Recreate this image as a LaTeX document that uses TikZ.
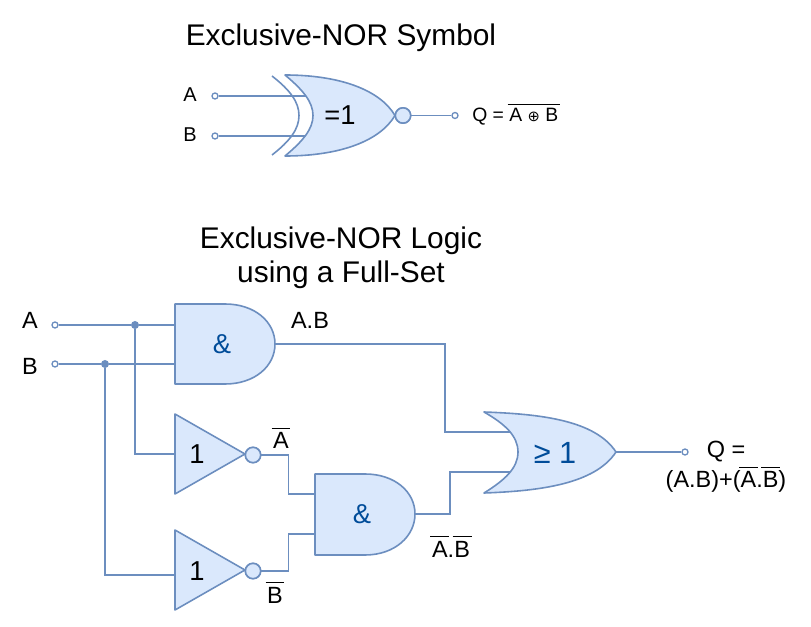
\documentclass[tikz,border=0pt]{standalone}
\usepackage{fontspec}
\setmainfont{Liberation Sans}
\newfontfamily\symfont{DejaVu Sans}
\newcommand{\ovl}[1]{\leavevmode\kern-1.2pt\vbox{\hrule height 0.7pt \kern 3pt \hbox{\kern1.2pt #1\kern1.2pt}}\kern-1.2pt}
\definecolor{gatefill}{HTML}{DAE8FC}
\definecolor{gateline}{HTML}{6C8EBF}
\definecolor{gatetext}{HTML}{004C99}
\tikzset{
  wire/.style={draw=gateline,line width=1.2pt},
  gate/.style={draw=gateline,fill=gatefill,line width=1.2pt,line join=round},
  arcline/.style={draw=gateline,line width=1.2pt},
  term/.style={circle,draw=gateline,fill=white,line width=1pt,inner sep=0pt,minimum size=4.5pt},
  junction/.style={circle,fill=gateline,inner sep=0pt,minimum size=6pt},
  bubble/.style={circle,draw=gateline,fill=gatefill,line width=1.2pt,inner sep=0pt,minimum size=11.5pt},
  title/.style={font=\fontsize{22.4}{25.5}\selectfont,align=center,inner sep=0pt},
  lblt/.style={font=\fontsize{15}{18}\selectfont,inner sep=0pt,anchor=base},
  lbl/.style={font=\fontsize{17.6}{22.5}\selectfont,inner sep=0pt,anchor=base},
  small/.style={font=\fontsize{14.5}{17}\selectfont,inner sep=0pt,anchor=base west},
  gatelbl/.style={font=\fontsize{20.5}{25}\selectfont,inner sep=0pt},
  bluelbl/.style={gatelbl,text=gatetext},
}
\begin{document}
\begin{tikzpicture}[x=0.75pt,y=-0.75pt]
\useasboundingbox (0,0) rectangle (811,627);

% ---- text
\node[title] (t1) at (341,38) {Exclusive-NOR Symbol};
\node[title] (t2) at (341,258) {Exclusive-NOR Logic\\using a Full-Set};

% ---- pins
\coordinate (xa) at (306,96);
\coordinate (xb) at (306,136);
\coordinate (a1a) at (178,325);
\coordinate (a1b) at (175,364);
\coordinate (a1o) at (275,344);
\coordinate (n1i) at (175,454);
\coordinate (n2i) at (175,575);
\coordinate (a2a) at (316,494);
\coordinate (a2b) at (316,534);
\coordinate (a2o) at (415,514);
\coordinate (oa) at (510,432);
\coordinate (ob) at (510,472);
\coordinate (oo) at (616,452);

% ---- terminals, junctions, bubbles
\node[term] (ta) at (215,96) {};
\node[term] (tb) at (215,136) {};
\node[term] (tq) at (455,115.5) {};
\node[bubble] (bx) at (403,115.5) {};
\node[term] (ta2) at (55,325) {};
\node[term] (tb2) at (55,364) {};
\node[junction] (ja) at (135,325) {};
\node[junction] (jb) at (105,364) {};
\node[bubble] (b1) at (253,455) {};
\node[bubble] (b2) at (253,571) {};
\node[term] (tq2) at (685,452) {};

% ---- connectors
\draw[wire] (ta) -- (xa);
\draw[wire] (tb) -- (xb);
\draw[wire] (bx) -- (tq);
\draw[wire] (ta2) -- (ja) -- (a1a);
\draw[wire] (tb2) -- (jb) -- (a1b);
\draw[wire] (ja) |- (n1i);
\draw[wire] (jb) |- (n2i);
\draw[wire] (b1.east) -- ++(27,0) |- (a2a);
\draw[wire] (b2.east) -- ++(27,0) |- (a2b);
\draw[wire] (a1o) -- ++(170,0) |- (oa);
\draw[wire] (a2o) -- ++(35,0) |- (ob);
\draw[wire] (oo) -- (tq2);

% ---- symbol gate
\draw[arcline] (272,76) .. controls (290,90) and (299,102) .. (299,115.5) .. controls (299,129) and (290,141) .. (272,155);
\draw[gate] (285,75) .. controls (340,75) and (380,90) .. (395,115.5) .. controls (380,141) and (340,156) .. (285,156) .. controls (303,141) and (313,129) .. (313,115.5) .. controls (313,102) and (303,90) .. (285,75) -- cycle;
\node[bubble] at (bx) {};
\node[gatelbl] (gx) at (340,115.5) {=1};

% ---- AND gates
\draw[gate] (175,304) -- (225,304) .. controls (255,304) and (275,322) .. (275,344) .. controls (275,366) and (255,384) .. (225,384) -- (175,384) -- cycle;
\node[bluelbl] (g1) at (222,344) {\&};
\draw[gate] (315,474) -- (365,474) .. controls (395,474) and (415,492) .. (415,514) .. controls (415,536) and (395,555) .. (365,555) -- (315,555) -- cycle;
\node[bluelbl] (g2) at (362,514) {\&};

% ---- NOT gates
\draw[gate] (175,414) -- (245,454) -- (175,494) -- cycle;
\node[gatelbl] (g3) at (197,454) {1};
\node[bubble] at (b1) {};
\draw[gate] (175,530) -- (245,570) -- (175,610) -- cycle;
\node[gatelbl] (g4) at (197,571) {1};
\node[bubble] at (b2) {};

% ---- OR gate
\draw[gate] (484,412) .. controls (540,414) and (595,420) .. (616,452) .. controls (595,484) and (540,491) .. (484,493) .. controls (505,480) and (518,468) .. (518,452) .. controls (518,436) and (505,424) .. (484,412) -- cycle;
\node[bluelbl,font=\fontsize{23}{25}\selectfont] (g5) at (555,453) {≥ 1};

% ---- labels
\node[lblt] (la) at (190,102) {A};
\node[lblt] (lb) at (190,142) {B};
\node[small] (lq) at (472,122) {Q = \ovl{A {\symfont\fontsize{11}{13}\selectfont ⊕} B}};
\node[lbl] (la2) at (30,329) {A};
\node[lbl] (lb2) at (30,375) {B};
\node[lbl] (lab) at (310,329) {A.B};
\node[lbl] (lna) at (281,449) {\ovl{A}};
\node[lbl] (lnb) at (275,603) {\ovl{B}};
\node[lbl] (lnab) at (451,557) {\ovl{A}.\ovl{B}};
\node[lbl,align=center,anchor=center] (lq2) at (726,467) {Q =\\(A.B)+(\ovl{A}.\ovl{B})};
\end{tikzpicture}
\end{document}
